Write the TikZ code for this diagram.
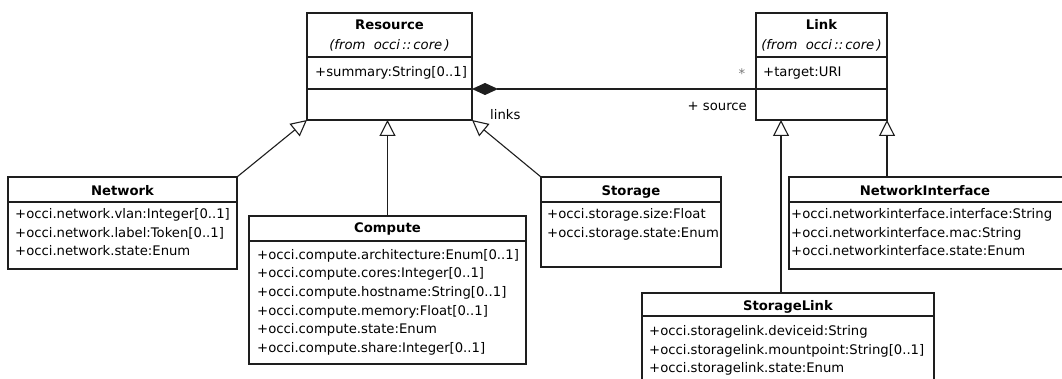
\documentclass[tikz,border=0pt]{standalone}
\usepackage{fontspec}
\setmainfont{DejaVu Sans}
\usetikzlibrary{arrows.meta,calc}
\definecolor{linec}{HTML}{1E1E1E}
\definecolor{starc}{HTML}{777777}
\begin{document}
\begin{tikzpicture}[x=1pt,y=-1pt,
  classbox/.style={draw=linec, line width=1.2pt, inner sep=0pt, outer sep=0pt, anchor=north west},
  sepline/.style={draw=linec, line width=2pt},
  attr/.style={anchor=base west, inner sep=0pt, font=\fontsize{13.2}{16}\selectfont},
  ttl/.style={anchor=base, inner sep=0pt, font=\fontsize{13.2}{16}\selectfont\bfseries},
  frm/.style={anchor=base, inner sep=0pt, font=\fontsize{13.2}{16}\selectfont\itshape},
  gen/.style={draw=linec, line width=1.1pt, -{Triangle[open, length=16pt, width=16pt, line width=1.1pt]}},
  comp/.style={draw=linec, line width=1.1pt, {Diamond[length=26pt, width=12pt]}-},
  lbl/.style={inner sep=0pt, font=\fontsize{13.2}{16}\selectfont}
]
\useasboundingbox (0,0) rectangle (1062,379);
\clip (0,0) rectangle (1062,379);
\fill[white] (0,0) rectangle (1062,379);

% Resource
\node[classbox, minimum width=165pt, minimum height=107pt] (res) at (307,13) {};
\draw[sepline] (res.west |- 0,57) -- (res.east |- 0,57);
\draw[sepline] (res.west |- 0,89) -- (res.east |- 0,89);
\node[ttl] (resT) at (389.5,30) {Resource};
\node[frm] (resF) at (389.5,50) {(from\ \ occi\,::\,core\,)};
\node[attr] (resA) at (315,77) {+summary:String[0..1]};

% Link
\node[classbox, minimum width=131pt, minimum height=107pt] (lnk) at (756,13) {};
\draw[sepline] (lnk.west |- 0,57) -- (lnk.east |- 0,57);
\draw[sepline] (lnk.west |- 0,89) -- (lnk.east |- 0,89);
\node[ttl] (lnkT) at (821.5,30) {Link};
\node[frm] (lnkF) at (821.5,50) {(from\ \ occi\,::\,core\,)};
\node[attr] (lnkA) at (763,77) {+target:URI};

% Network
\node[classbox, minimum width=229pt, minimum height=92pt] (net) at (8,177) {};
\draw[sepline] (net.west |- 0,202) -- (net.east |- 0,202);
\node[ttl] (netT) at (122.5,195.5) {Network};
\node[attr] (netA1) at (15,219) {+occi.network.vlan:Integer[0..1]};
\node[attr] (netA2) at (15,237.5) {+occi.network.label:Token[0..1]};
\node[attr] (netA3) at (15,256) {+occi.network.state:Enum};

% Compute
\node[classbox, minimum width=277pt, minimum height=148pt] (cmp) at (249,216) {};
\draw[sepline] (cmp.west |- 0,241) -- (cmp.east |- 0,241);
\node[ttl] (cmpT) at (387.5,233) {Compute};
\node[attr] (cmpA1) at (257,259) {+occi.compute.architecture:Enum[0..1]};
\node[attr] (cmpA2) at (257,277.7) {+occi.compute.cores:Integer[0..1]};
\node[attr] (cmpA3) at (257,296.4) {+occi.compute.hostname:String[0..1]};
\node[attr] (cmpA4) at (257,315) {+occi.compute.memory:Float[0..1]};
\node[attr] (cmpA5) at (257,333.7) {+occi.compute.state:Enum};
\node[attr] (cmpA6) at (257,352.4) {+occi.compute.share:Integer[0..1]};

% Storage
\node[classbox, minimum width=180pt, minimum height=90pt] (sto) at (541,177) {};
\draw[sepline] (sto.west |- 0,202) -- (sto.east |- 0,202);
\node[ttl] (stoT) at (631,195.5) {Storage};
\node[attr] (stoA1) at (547,219) {+occi.storage.size:Float};
\node[attr] (stoA2) at (547,237.5) {+occi.storage.state:Enum};

% NetworkInterface
\node[classbox, minimum width=285pt, minimum height=92pt] (ni) at (789,177) {};
\draw[sepline] (ni.west |- 0,202) -- (ni.east |- 0,202);
\node[ttl] (niT) at (925,195.5) {NetworkInterface};
\node[attr] (niA1) at (791,219) {+occi.networkinterface.interface:String};
\node[attr] (niA2) at (791,237.5) {+occi.networkinterface.mac:String};
\node[attr] (niA3) at (791,256) {+occi.networkinterface.state:Enum};

% StorageLink
\node[classbox, minimum width=292pt, minimum height=100pt] (sl) at (642,293) {};
\draw[sepline] (sl.west |- 0,316) -- (sl.east |- 0,316);
\node[ttl] (slT) at (788,310) {StorageLink};
\node[attr] (slA1) at (649,335) {+occi.storagelink.deviceid:String};
\node[attr] (slA2) at (649,354) {+occi.storagelink.mountpoint:String[0..1]};
\node[attr] (slA3) at (649,372.7) {+occi.storagelink.state:Enum};

% connectors
\coordinate (resC) at (res.east |- 0,89);
\coordinate (lnkC) at (lnk.west |- 0,89);
\draw[comp] (resC) -- (lnkC);
\node[lbl, text=starc] (star) at (742,74) {*};
\node[lbl, anchor=base east] (src) at (747,111) {+ source};
\node[lbl, anchor=base west] (lnks) at (490,120) {links};

\draw[gen] (net.north east) -- (res.south west);
\draw[gen] (cmp.north) -- (cmp.north |- res.south);
\draw[gen] (sto.north west) -- (res.south east);

\coordinate (lnkL) at (781,120);
\draw[gen] (sl.north -| lnkL) -- (lnkL);
\draw[gen] (lnk.south east |- ni.north) -- (lnk.south east);
\end{tikzpicture}
\end{document}
